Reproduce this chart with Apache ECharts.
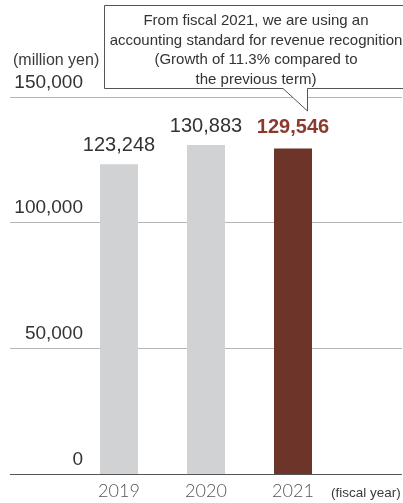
<!DOCTYPE html>
<html>
<head>
<meta charset="utf-8">
<title>Net sales</title>
<script src="https://cdn.jsdelivr.net/npm/echarts@6/dist/echarts.min.js"></script>
<style>
  html, body { margin: 0; padding: 0; background: #fff; }
  #chart { width: 403px; height: 503px; }
</style>
</head>
<body>
<div id="chart"></div>
<script>
// Net sales by fiscal year (million yen)
const years = ['2019', '2020', '2021'];
const sales = [123248, 130883, 129546];
const yTicks = [0, 50000, 100000, 150000];
const noteLines = [
  'From fiscal 2021, we are using an',
  'accounting standard for revenue recognition',
  '(Growth of 11.3% compared to',
  'the previous term)'
];

const GRAY = '#d1d2d4';
const BROWN = '#6d3529';
const FONT = '"Liberation Sans", Arial, Helvetica, sans-serif';

const barData = sales.map((v, i) => {
  const latest = i === sales.length - 1;
  return {
    value: v,
    itemStyle: { color: latest ? BROWN : GRAY },
    label: latest
      ? { color: '#8b3a2e', fontWeight: 'bold', distance: 11 }
      : { color: '#333', fontWeight: 'normal', distance: 9 }
  };
});

const chart = echarts.init(document.getElementById('chart'), null, { renderer: 'canvas' });

chart.setOption({
  animation: false,
  backgroundColor: '#fff',
  grid: [
    // full-width grid carrying the value scale and horizontal rules
    { left: 10, right: 1, top: 97, bottom: 29 },
    // narrower grid holding the bars
    { left: 75.5, right: 66.5, top: 97, bottom: 29 }
  ],
  title: [
    {
      text: '(million yen)', left: 8, top: 48,
      textStyle: { fontFamily: FONT, fontSize: 16, fontWeight: 'normal', color: '#3a3a3a' }
    },
    {
      text: '(fiscal year)', left: 326, top: 481,
      textStyle: { fontFamily: FONT, fontSize: 13.5, fontWeight: 'normal', color: '#3a3a3a' }
    }
  ],
  xAxis: [
    { gridIndex: 0, type: 'value', show: false, min: 0, max: 1 },
    {
      gridIndex: 1, type: 'category', data: years,
      axisLine: { show: false }, axisTick: { show: false },
      axisLabel: {
        margin: 8, fontFamily: 'Lato, "Open Sans", sans-serif', fontWeight: 300,
        fontSize: 18, color: '#555'
      }
    }
  ],
  yAxis: [
    {
      gridIndex: 0, type: 'value', min: yTicks[0], max: yTicks[yTicks.length - 1],
      interval: yTicks[1] - yTicks[0],
      axisLine: { show: false }, axisTick: { show: false },
      splitLine: { show: true, lineStyle: { color: ['#555', '#b5b5b5', '#b5b5b5', '#b5b5b5'], width: 1 } },
      axisLabel: {
        margin: -73, align: 'right', verticalAlign: 'bottom',
        padding: [0, 0, 5, 0],
        fontFamily: FONT, fontSize: 19, color: '#333',
        formatter: v => v.toLocaleString('en-US')
      }
    },
    {
      gridIndex: 1, type: 'value', min: yTicks[0], max: yTicks[yTicks.length - 1],
      show: false, splitLine: { show: false }
    }
  ],
  series: [
    {
      type: 'bar', xAxisIndex: 1, yAxisIndex: 1,
      barWidth: 38, data: barData,
      label: {
        show: true, position: 'top', fontFamily: FONT, fontSize: 20,
        formatter: p => p.value.toLocaleString('en-US')
      }
    }
  ],
  graphic: [
    {
      type: 'polygon', z: 10,
      shape: { points: [[104.5, 5.5], [412, 5.5], [412, 88.5], [307.5, 88.5], [307.5, 111], [283, 88.5], [104.5, 88.5]] },
      style: { fill: '#fff', stroke: '#555', lineWidth: 1 }
    },
    {
      type: 'text', z: 11, x: 256, y: 50.5,
      style: {
        text: noteLines.join('\n'), textAlign: 'center', textVerticalAlign: 'middle',
        font: '15px ' + FONT, lineHeight: 19.5, fill: '#333'
      }
    }
  ]
});
</script>
</body>
</html>
